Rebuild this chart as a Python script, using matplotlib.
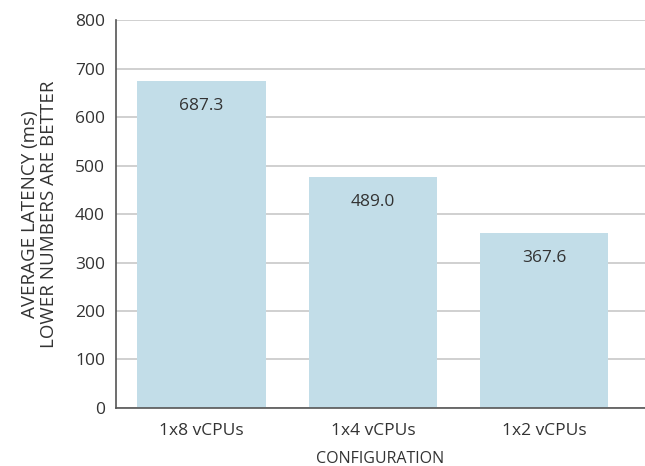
import matplotlib
matplotlib.use("Agg")
from matplotlib import pyplot as plt

configs = ["1x8 vCPUs", "1x4 vCPUs", "1x2 vCPUs"]
bar_heights = [674, 476, 361]  # as drawn in the picture
bar_labels = ["687.3", "489.0", "367.6"]
y_ticks = [0, 100, 200, 300, 400, 500, 600, 700, 800]

plt.rcParams['font.family'] = ['Open Sans', 'DejaVu Sans']
text_color = '#333333'

fig = plt.figure(figsize=(6.45, 4.66), dpi=100)
ax = fig.add_axes([0.18, 0.1245, 0.82, 0.8325])

x = range(len(configs))
ax.bar(x, bar_heights, width=0.75, color='#c2dde8', zorder=2)
for xi, h, lab in zip(x, bar_heights, bar_labels):
    ax.text(xi, h - 51, lab, ha='center', va='center', fontsize=12.5, color=text_color, zorder=3)

ax.set_xlim(-0.5, 2.59)
ax.set_ylim(0, 800)
ax.set_yticks(y_ticks)
ax.set_xticks(list(x))
ax.set_xticklabels(configs)
ax.yaxis.grid(True, color='#c8c8c8', linewidth=1.2, zorder=0)
ax.set_axisbelow(True)

for side in ['top', 'right']:
    ax.spines[side].set_visible(False)
for side in ['left', 'bottom']:
    ax.spines[side].set_color('#555555')
    ax.spines[side].set_linewidth(1.2)

ax.tick_params(axis='both', length=0, labelsize=12.5, colors=text_color, pad=8)
ax.tick_params(axis='x', labelsize=12.5, pad=11)

ax.set_xlabel('CONFIGURATION', fontsize=11.5, color=text_color, labelpad=8.5)
ax.set_ylabel('AVERAGE LATENCY (ms)\nLOWER NUMBERS ARE BETTER', fontsize=13.5,
              color=text_color, labelpad=12, linespacing=1.1)

fig.savefig('out.png', dpi=100)
